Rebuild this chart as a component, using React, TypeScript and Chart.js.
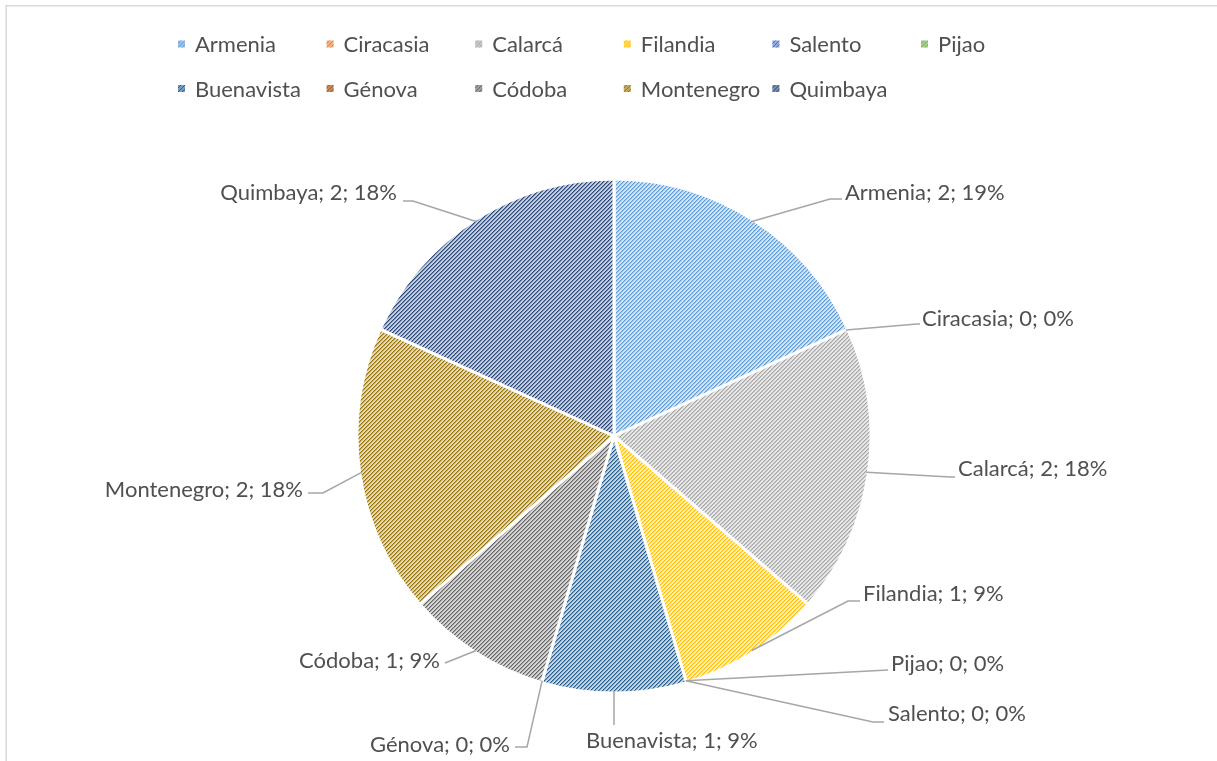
import React, { useEffect, useRef } from "react";
import { Chart, registerables } from "chart.js";

Chart.register(...registerables);

const categories = ["Armenia", "Ciracasia", "Calarcá", "Filandia", "Salento", "Pijao", "Buenavista", "Génova", "Códoba", "Montenegro", "Quimbaya"];
const values = [2, 0, 2, 1, 0, 0, 1, 0, 1, 2, 2];
const percentLabels = ["19%", "0%", "18%", "9%", "0%", "0%", "9%", "0%", "9%", "18%", "18%"];
const colors = ["#5B9BD5", "#ED7D31", "#A5A5A5", "#FFC000", "#4472C4", "#70AD47", "#255E91", "#9E480E", "#636363", "#997300", "#264478"];

// Data-label layout: bend point, end point, text anchor x, text baseline y, alignment
const labelLayout: [number, number, number, number, number, number, string][] = [
  [830, 199, 842, 199, 845, 200, "left"],
  [917, 324, 920, 324, 922, 326, "left"],
  [950, 477, 955, 477, 958, 476, "left"],
  [848, 601, 860, 601, 863, 601, "left"],
  [873, 722, 884, 722, 888, 721, "left"],
  [888, 670, 888, 670, 891, 671, "left"],
  [614, 725, 614, 725, 586, 748, "left"],
  [527, 747, 515, 747, 510, 752, "right"],
  [445, 663, 445, 663, 440, 668, "right"],
  [323, 493, 308, 493, 303, 497, "right"],
  [413, 201, 403, 201, 397, 200, "right"],
];

const FONT = "22px Lato, 'Open Sans', sans-serif";
const TEXT_COLOR = "#505050";

function hexToRgb(h: string) {
  const n = parseInt(h.slice(1), 16);
  return [(n >> 16) & 255, (n >> 8) & 255, n & 255];
}

function mix(hex: string, t: number) {
  const [r, g, b] = hexToRgb(hex);
  return `rgb(${Math.round(255 * (1 - t) + r * t)},${Math.round(255 * (1 - t) + g * t)},${Math.round(255 * (1 - t) + b * t)})`;
}

function makePattern(ctx: CanvasRenderingContext2D, hex: string) {
  const size = 4;
  const c = document.createElement("canvas");
  c.width = size;
  c.height = size;
  const g = c.getContext("2d")!;
  const img = g.createImageData(size, size);
  const [r, gg, b] = hexToRgb(hex);
  for (let y = 0; y < size; y++) {
    for (let x = 0; x < size; x++) {
      const k = (x + y) % size;
      const t = k === 0 ? 1 : k === 1 ? 0.6 : 0.27;
      const i = (y * size + x) * 4;
      img.data[i] = Math.round(255 * (1 - t) + r * t);
      img.data[i + 1] = Math.round(255 * (1 - t) + gg * t);
      img.data[i + 2] = Math.round(255 * (1 - t) + b * t);
      img.data[i + 3] = 255;
    }
  }
  g.putImageData(img, 0, 0);
  return ctx.createPattern(c, "repeat")!;
}

export default function App() {
  const ref = useRef<HTMLCanvasElement>(null);

  useEffect(() => {
    const canvas = ref.current!;
    const ctx = canvas.getContext("2d")!;
    const patterns = colors.map((c) => makePattern(ctx, c));

    const framePlugin = {
      id: "frame",
      beforeDraw(chart: any) {
        const c = chart.ctx;
        c.save();
        c.fillStyle = "#FFFFFF";
        c.fillRect(0, 0, chart.width, chart.height);
        c.fillStyle = "#D9D9D9";
        c.fillRect(5.5, 5, 1.5, chart.height);
        c.fillRect(5.5, 5, chart.width, 1.5);
        c.restore();
      },
    };

    const legendPlugin = {
      id: "gridLegend",
      afterDraw(chart: any) {
        const c = chart.ctx;
        c.save();
        c.font = FONT;
        c.textAlign = "left";
        c.textBaseline = "alphabetic";
        const colW = 148.6;
        categories.forEach((name, i) => {
          const row = Math.floor(i / 6);
          const col = i % 6;
          const x = 178 + col * colW;
          const base = 52 + row * 44.5;
          const top = base - 11.5;
          c.fillStyle = mix(colors[i], 0.6);
          c.fillRect(x, top, 7, 7);
          c.save();
          c.beginPath();
          c.rect(x, top, 7, 7);
          c.clip();
          c.strokeStyle = colors[i];
          c.lineWidth = 1;
          c.beginPath();
          c.moveTo(x - 1, top + 8);
          c.lineTo(x + 8, top - 1);
          c.moveTo(x - 1, top + 4);
          c.lineTo(x + 4, top - 1);
          c.moveTo(x + 3, top + 8);
          c.lineTo(x + 8, top + 3);
          c.stroke();
          c.restore();
          c.fillStyle = TEXT_COLOR;
          c.fillText(name, x + 17, base);
        });
        c.restore();
      },
    };

    const labelPlugin = {
      id: "leaderLabels",
      afterDraw(chart: any) {
        const c = chart.ctx;
        const meta = chart.getDatasetMeta(0);
        c.save();
        c.font = FONT;
        c.textBaseline = "alphabetic";
        meta.data.forEach((arc: any, i: number) => {
          const p = arc.getProps(["x", "y", "startAngle", "endAngle", "outerRadius"], true);
          const mid = (p.startAngle + p.endAngle) / 2;
          const sx = p.x + Math.cos(mid) * (p.outerRadius - 2);
          const sy = p.y + Math.sin(mid) * (p.outerRadius - 2);
          const [bx, by, ex, ey, tx, ty, align] = labelLayout[i];
          c.strokeStyle = "#A6A6A6";
          c.lineWidth = 1.5;
          c.beginPath();
          c.moveTo(sx, sy);
          c.lineTo(bx, by);
          c.lineTo(ex, ey);
          c.stroke();
          c.fillStyle = TEXT_COLOR;
          c.textAlign = align as CanvasTextAlign;
          c.fillText(`${categories[i]}; ${values[i]}; ${percentLabels[i]}`, tx, ty);
        });
        c.restore();
      },
    };

    const chart = new Chart(canvas, {
      type: "pie",
      data: {
        labels: categories,
        datasets: [
          {
            data: values,
            backgroundColor: patterns,
            borderColor: "#FFFFFF",
            borderWidth: 3,
            hoverOffset: 0,
          },
        ],
      },
      options: {
        animation: false,
        responsive: false,
        radius: 257,
        layout: { padding: { top: 120, bottom: 9, left: 11, right: 0 } },
        plugins: {
          legend: { display: false },
          tooltip: { enabled: false },
        },
        events: [],
      } as any,
      plugins: [framePlugin, legendPlugin, labelPlugin],
    });
    return () => chart.destroy();
  }, []);

  return (
    <div style={{ position: "fixed", left: 0, top: 0, width: 1217, height: 761, background: "#fff" }}>
      <canvas ref={ref} width={1217} height={761} style={{ display: "block", width: 1217, height: 761 }} />
    </div>
  );
}
